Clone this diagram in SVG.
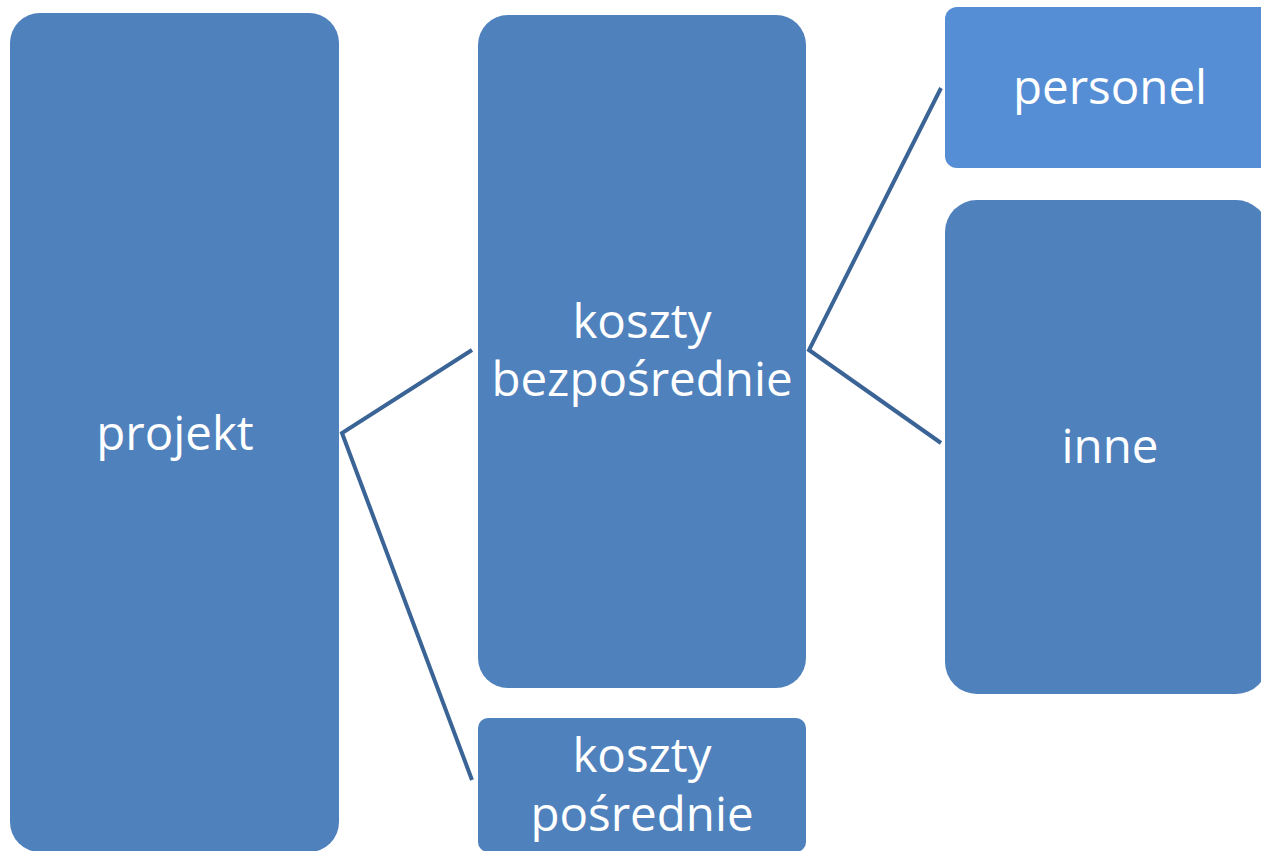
<svg xmlns="http://www.w3.org/2000/svg" width="1261" height="851" viewBox="0 0 1261 851">
<style>
.box{fill:#4F81BD}
.light{fill:#558ED5}
.t{fill:#FFFFFF;font-family:"Open Sans","Liberation Sans",sans-serif;font-size:47.5px;text-anchor:middle}
.c{stroke:#3B6496;stroke-width:4;fill:none}
</style>
<rect width="1261" height="851" fill="#FFFFFF"/>
<g id="connectors">
<polyline class="c" points="472,350 342,433 472,780"/>
<polyline class="c" points="941,88 809,350 941,443"/>
</g>
<g id="projekt">
<rect class="box" x="10" y="13" width="329" height="839" rx="30" ry="30"/>
<text class="t" x="175" y="450">projekt</text>
</g>
<g id="koszty-bezposrednie">
<rect class="box" x="478" y="15" width="328" height="673" rx="30" ry="30"/>
<text class="t" x="642" y="338">koszty</text>
<text class="t" x="642" y="396">bezpośrednie</text>
</g>
<g id="koszty-posrednie">
<rect class="box" x="478" y="718" width="328" height="134" rx="10" ry="10"/>
<text class="t" x="642" y="772">koszty</text>
<text class="t" x="642" y="831">pośrednie</text>
</g>
<g id="personel">
<rect class="light" x="945" y="7" width="330" height="161" rx="12" ry="12"/>
<text class="t" x="1110" y="104">personel</text>
</g>
<g id="inne">
<rect class="box" x="945" y="200" width="323" height="494" rx="32" ry="32"/>
<text class="t" x="1110" y="463">inne</text>
</g>
</svg>
